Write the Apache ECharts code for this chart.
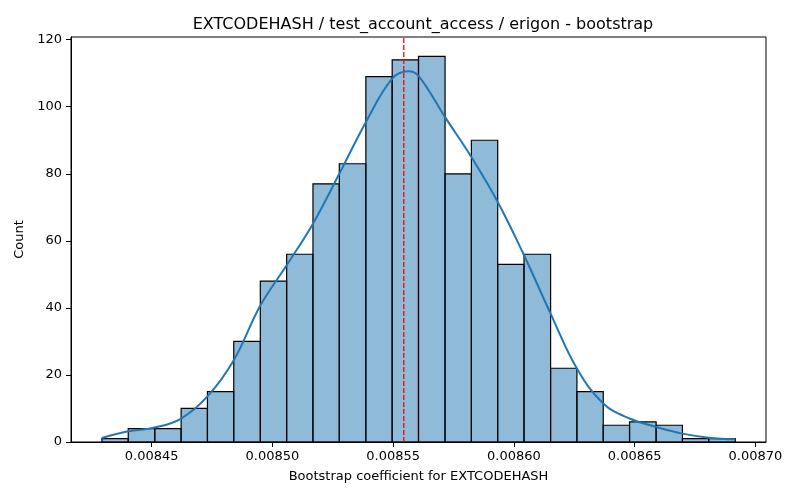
<!DOCTYPE html>
<html>
<head>
<meta charset="utf-8">
<script src="https://cdn.jsdelivr.net/npm/echarts@6/dist/echarts.min.js"></script>
<style>
  html, body { margin: 0; padding: 0; background: #fff; }
  #main { width: 800px; height: 500px; }
</style>
</head>
<body>
<div id="main"></div>
<script>
// histogram bins (edges) and counts
const binEdges = [
  0.0084294, 0.0084403, 0.0084513, 0.0084622, 0.0084731, 0.0084840,
  0.0084950, 0.0085059, 0.0085168, 0.0085277, 0.0085387, 0.0085496,
  0.0085605, 0.0085715, 0.0085824, 0.0085933, 0.0086042, 0.0086152,
  0.0086261, 0.0086370, 0.0086479, 0.0086589, 0.0086698, 0.0086807,
  0.0086917
];
const counts = [1, 4, 4, 10, 15, 30, 48, 56, 77, 83, 109, 114, 115, 80, 90, 53, 56, 22, 15, 5, 6, 5, 1, 1];

// kde curve, sampled by eye
const kdeX = [
  0.0084294, 0.0084403, 0.0084513, 0.0084622, 0.0084731, 0.0084840,
  0.0084950, 0.0085059, 0.0085168, 0.0085277, 0.0085387, 0.0085496,
  0.0085563, 0.0085605, 0.0085715, 0.0085824, 0.0085933, 0.0086042,
  0.0086152, 0.0086261, 0.0086370, 0.0086479, 0.0086589, 0.0086698,
  0.0086807, 0.0086917
];
const kdeY = [1.2, 3.2, 4.3, 7.0, 13.6, 24.4, 40.7, 52.7, 65.1, 80.0, 95.4, 108.4,
  110.6, 109.2, 96.9, 85.0, 71.6, 55.7, 38.3, 21.9, 11.5, 7.0, 4.5, 2.5, 1.3, 0.8];

const meanValue = 0.0085544;

const xTicks = [0.00845, 0.00850, 0.00855, 0.00860, 0.00865, 0.00870];
const yTicks = [0, 20, 40, 60, 80, 100, 120];
const yMax = 120.8;

const font = 'DejaVu Sans';

const histData = counts.map((c, i) => [binEdges[i], binEdges[i + 1], c]);
const kdeData = kdeX.map((x, i) => [x, kdeY[i]]);

const myChart = echarts.init(document.getElementById('main'));

const option = {
  animation: false,
  backgroundColor: '#fff',
  title: {
    text: 'EXTCODEHASH / test_account_access / erigon - bootstrap',
    left: 418,
    top: 12,
    textAlign: 'center',
    textStyle: {
      fontFamily: font,
      fontSize: 16,
      fontWeight: 'normal',
      color: '#000'
    }
  },
  grid: {
    left: 71,
    right: 34,
    top: 37,
    bottom: 58,
    show: true,
    borderColor: '#000',
    borderWidth: 1
  },
  xAxis: {
    type: 'value',
    min: 0.0084166,
    max: 0.0087044,
    name: 'Bootstrap coefficient for EXTCODEHASH',
    nameLocation: 'middle',
    nameGap: 28,
    nameTextStyle: { fontFamily: font, fontSize: 13, color: '#000' },
    axisLine: { show: true, onZero: false, lineStyle: { color: '#000', width: 1 } },
    axisTick: {
      show: true,
      inside: false,
      length: 5,
      customValues: xTicks,
      lineStyle: { color: '#000' }
    },
    axisLabel: {
      customValues: xTicks,
      margin: 8,
      fontFamily: font,
      fontSize: 13,
      color: '#000',
      formatter: v => v.toFixed(5)
    },
    splitLine: { show: false }
  },
  yAxis: {
    type: 'value',
    min: 0,
    max: yMax,
    name: 'Count',
    nameLocation: 'middle',
    nameGap: 38,
    nameTextStyle: { fontFamily: font, fontSize: 13, color: '#000' },
    axisLine: { show: true, lineStyle: { color: '#000', width: 1 } },
    axisTick: {
      show: true,
      inside: false,
      length: 5,
      customValues: yTicks,
      lineStyle: { color: '#000' }
    },
    axisLabel: {
      customValues: yTicks,
      margin: 9,
      fontFamily: font,
      fontSize: 13,
      color: '#000'
    },
    splitLine: { show: false }
  },
  series: [
    {
      type: 'custom',
      name: 'hist',
      data: histData,
      encode: { x: [0, 1], y: 2 },
      renderItem: (params, api) => {
        const p0 = api.coord([api.value(0), api.value(2)]);
        const p1 = api.coord([api.value(1), 0]);
        return {
          type: 'rect',
          shape: { x: p0[0], y: p0[1], width: p1[0] - p0[0], height: p1[1] - p0[1] },
          style: {
            fill: 'rgba(31,119,180,0.5)',
            stroke: '#000',
            lineWidth: 1.2
          }
        };
      },
      z: 2
    },
    {
      type: 'line',
      name: 'kde',
      data: kdeData,
      smooth: 0.4,
      showSymbol: false,
      lineStyle: { color: '#1f77b4', width: 2 },
      z: 3
    },
    {
      // mean marker
      type: 'line',
      name: 'mean',
      data: [[meanValue, 0], [meanValue, yMax]],
      showSymbol: false,
      lineStyle: { color: '#ff0000', type: [5, 2], width: 1.3 },
      z: 4
    }
  ]
};

myChart.setOption(option);
</script>
</body>
</html>
